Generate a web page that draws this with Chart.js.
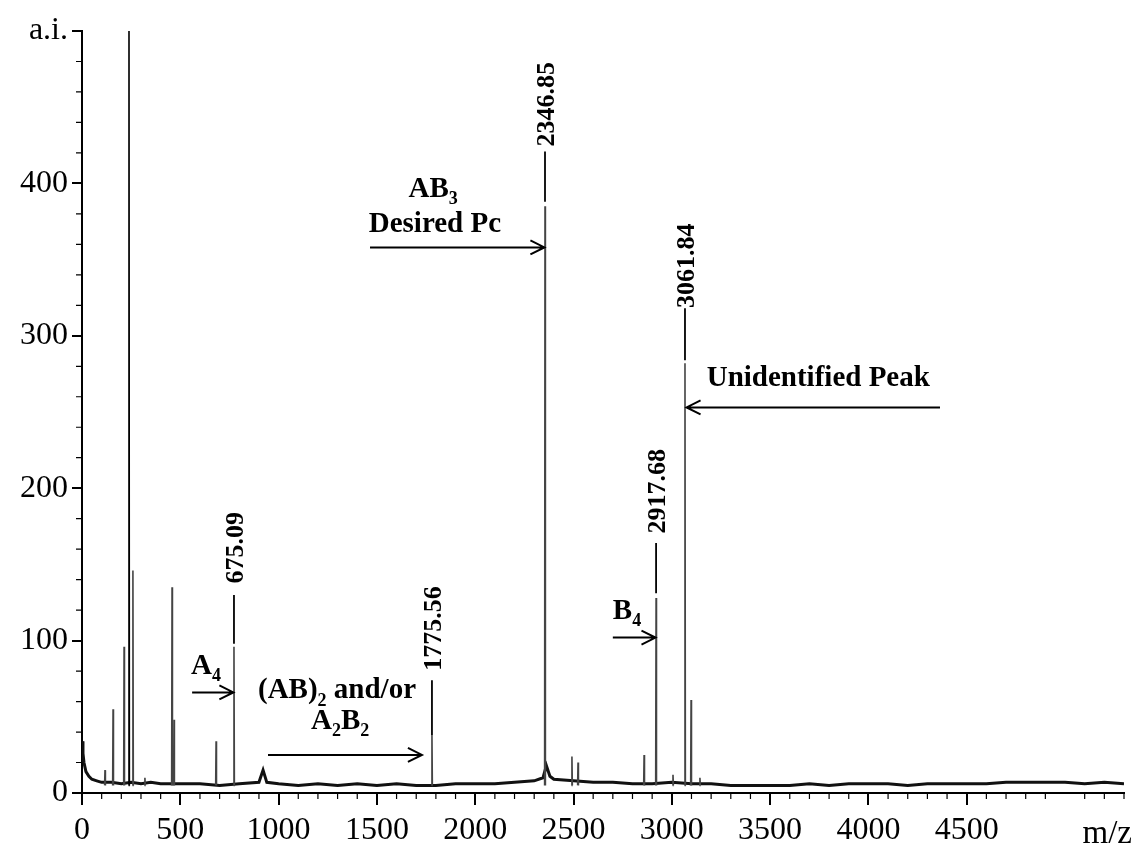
<!DOCTYPE html>
<html>
<head>
<meta charset="utf-8">
<script src="https://cdn.jsdelivr.net/npm/chart.js@4.4.0/dist/chart.umd.min.js"></script>
<style>
  html, body { margin: 0; padding: 0; background: #fff; }
</style>
</head>
<body>
<canvas id="myChart" width="1140" height="851"></canvas>
<script>
// axis ticks
const xTicks = [0, 500, 1000, 1500, 2000, 2500, 3000, 3500, 4000, 4500];
const yTicks = [0, 100, 200, 300, 400, 500];
const yTickLabels = ['0', '100', '200', '300', '400', 'a.i.'];
const xUnit = 'm/z';

// baseline of the spectrum (m/z, a.i.)
const baseMz = [0, 5, 10, 20, 35, 50, 75, 100, 150, 200, 250, 300, 350, 400,
  500, 600, 700, 800, 900, 921, 940, 1000, 1100, 1200, 1300, 1400, 1500, 1600, 1700,
  1800, 1900, 2000, 2100, 2200, 2300, 2345, 2362, 2380, 2400, 2500, 2600, 2700, 2800,
  2900, 3000, 3100, 3200, 3300, 3400, 3500, 3600, 3700, 3800, 3900, 4000, 4100,
  4200, 4300, 4400, 4500, 4600, 4700, 4800, 4900, 5000, 5100, 5200, 5300];
const baseLevel = [34, 26, 20, 14, 11, 9, 8, 7, 7, 6, 7, 6, 7, 6,
  6, 6, 5, 6, 7, 15, 7, 6, 5, 6, 5, 6, 5, 6, 5,
  5, 6, 6, 6, 7, 8, 10, 18, 11, 9, 8, 7, 7, 6,
  6, 7, 6, 6, 5, 5, 5, 5, 6, 5, 6, 6, 6,
  5, 6, 6, 6, 6, 7, 7, 7, 7, 6, 7, 6];

// peaks (m/z, a.i.)
const peakMz = [117, 158, 214, 239, 259, 320, 458, 468, 682, 773, 1780, 2355,
  2492, 2523, 2859, 2920, 3006, 3067, 3098, 3143];
const peakHeight = [15, 55, 96, 520, 146, 10, 135, 48, 34, 96, 38, 385,
  24, 20, 25, 128, 12, 282, 61, 10];

// peak tags
const tagText = ['675.09', '1775.56', '2346.85', '2917.68', '3061.84'];
const tagMz = [773, 1780, 2355, 2920, 3067];

const FONT = '"Liberation Serif", "Times New Roman", serif';
const FOOT = 5;

const baseData = baseMz.map((m, i) => ({ x: m, y: baseLevel[i] }));
const peakData = [];
peakMz.forEach((m, i) => {
  peakData.push({ x: m - 2, y: FOOT });
  peakData.push({ x: m, y: peakHeight[i] });
  peakData.push({ x: m + 2, y: FOOT });
  peakData.push({ x: m + 2.5, y: null });
});

const notes = {
  tags: [
    { i: 0, y: 161, line: [130, 98] },
    { i: 1, y: 108, line: [74, 38] },
    { i: 2, y: 452, line: [421, 388] },
    { i: 3, y: 198, line: [164, 131] },
    { i: 4, y: 346, line: [318, 284] }
  ],
  texts: [
    { runs: [['A'], ['4', 1]], x: 631, y: 83 },
    { runs: [['(AB)'], ['2', 1], [' and/or']], x: 1297, y: 67 },
    { runs: [['A'], ['2', 1], ['B'], ['2', 1]], x: 1313, y: 47 },
    { runs: [['AB'], ['3', 1]], x: 1786, y: 396 },
    { runs: [['Desired Pc']], x: 1795, y: 373 },
    { runs: [['Unidentified Peak']], x: 3745, y: 272 },
    { runs: [['B'], ['4', 1]], x: 2772, y: 119 }
  ],
  arrows: [
    { y: 66, from: 560, to: 770 },
    { y: 25, from: 946, to: 1729 },
    { y: 358, from: 1465, to: 2352 },
    { y: 253, from: 4364, to: 3075 },
    { y: 102, from: 2700, to: 2917 }
  ]
};

const decorations = {
  id: 'decorations',
  afterDatasetsDraw(chart) {
    const { ctx, scales: { x, y } } = chart;
    ctx.save();
    ctx.fillStyle = '#000';
    ctx.strokeStyle = '#000';

    // minor ticks
    ctx.lineWidth = 1.2;
    ctx.beginPath();
    for (let v = 100; v <= 5300; v += 100) {
      if (v % 500 === 0) continue;
      const px = x.getPixelForValue(v);
      ctx.moveTo(px, y.bottom); ctx.lineTo(px, y.bottom + 6);
    }
    for (let v = 20; v < 500; v += 20) {
      if (v % 100 === 0) continue;
      const py = y.getPixelForValue(v);
      ctx.moveTo(x.left, py); ctx.lineTo(x.left - 6, py);
    }
    ctx.stroke();

    // unit label
    ctx.font = '33px ' + FONT;
    ctx.textAlign = 'right';
    ctx.textBaseline = 'middle';
    ctx.fillText(xUnit, x.right + 8, 834);

    // peak tags
    ctx.font = 'bold 26px ' + FONT;
    ctx.textAlign = 'center';
    ctx.lineWidth = 1.8;
    notes.tags.forEach(t => {
      const px = x.getPixelForValue(tagMz[t.i]);
      ctx.beginPath();
      ctx.moveTo(px, y.getPixelForValue(t.line[0]));
      ctx.lineTo(px, y.getPixelForValue(t.line[1]));
      ctx.stroke();
      ctx.save();
      ctx.translate(px + 2, y.getPixelForValue(t.y));
      ctx.rotate(-Math.PI / 2);
      ctx.fillText(tagText[t.i], 0, 0);
      ctx.restore();
    });

    // annotation texts with subscripts
    const big = 'bold 29px ' + FONT;
    const small = 'bold 18px ' + FONT;
    notes.texts.forEach(n => {
      let w = 0;
      n.runs.forEach(r => { ctx.font = r[1] ? small : big; w += ctx.measureText(r[0]).width; });
      let cx = x.getPixelForValue(n.x) - w / 2;
      const cy = y.getPixelForValue(n.y);
      ctx.textAlign = 'left';
      n.runs.forEach(r => {
        ctx.font = r[1] ? small : big;
        ctx.fillText(r[0], cx, r[1] ? cy + 10 : cy);
        cx += ctx.measureText(r[0]).width;
      });
    });

    // arrows
    ctx.lineWidth = 2;
    notes.arrows.forEach(a => {
      const py = y.getPixelForValue(a.y);
      const x0 = x.getPixelForValue(a.from);
      const x1 = x.getPixelForValue(a.to);
      const d = Math.sign(x1 - x0);
      ctx.beginPath();
      ctx.moveTo(x0, py); ctx.lineTo(x1, py);
      ctx.moveTo(x1 - d * 14, py - 7); ctx.lineTo(x1, py); ctx.lineTo(x1 - d * 14, py + 7);
      ctx.stroke();
    });
    ctx.restore();
  }
};

const ctx = document.getElementById('myChart').getContext('2d');
const chart = new Chart(ctx, {
  type: 'line',
  data: {
    datasets: [
      {
        label: 'peaks',
        data: peakData,
        borderColor: '#444',
        borderWidth: 1.6,
        pointRadius: 0,
        spanGaps: false,
        segment: {
          borderColor: c => (c.p0.parsed.y > 450 || c.p1.parsed.y > 450) ? '#000' : '#444'
        }
      },
      {
        label: 'baseline',
        data: baseData,
        borderColor: '#111',
        borderWidth: 3,
        pointRadius: 0
      }
    ]
  },
  options: {
    responsive: false,
    animation: false,
    layout: { padding: { top: 31, right: 16, left: 0, bottom: 0 } },
    plugins: { legend: { display: false }, tooltip: { enabled: false } },
    scales: {
      x: {
        type: 'linear',
        min: 0,
        max: 5300,
        afterBuildTicks: axis => { axis.ticks = xTicks.map(v => ({ value: v })); },
        afterFit: scale => { scale.height = 58; },
        grid: { drawOnChartArea: false, drawTicks: true, tickLength: 12, color: '#000', lineWidth: 2 },
        border: { color: '#000', width: 2 },
        ticks: {
          color: '#000',
          font: { family: FONT, size: 32 },
          padding: 6,
          maxRotation: 0,
          callback: v => String(v)
        }
      },
      y: {
        min: 0,
        max: 500,
        afterBuildTicks: axis => { axis.ticks = yTicks.map(v => ({ value: v })); },
        afterFit: scale => { scale.width = 82; },
        grid: { drawOnChartArea: false, drawTicks: true, tickLength: 10, color: '#000', lineWidth: 2 },
        border: { color: '#000', width: 2 },
        ticks: {
          color: '#000',
          font: { family: FONT, size: 32 },
          padding: 4,
          callback: v => yTickLabels[yTicks.indexOf(v)]
        }
      }
    }
  },
  plugins: [decorations]
});
</script>
</body>
</html>
